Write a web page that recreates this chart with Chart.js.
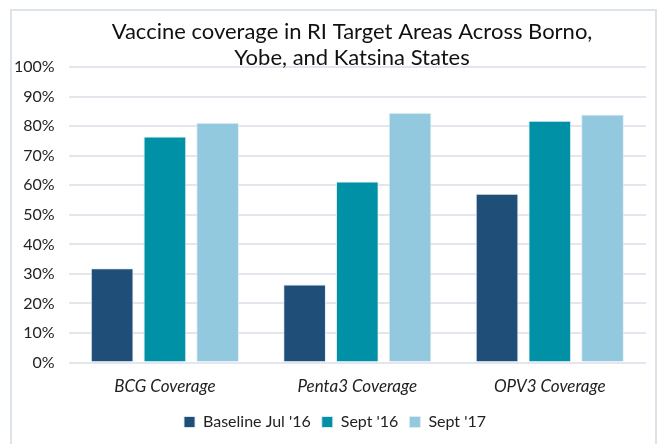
<!DOCTYPE html>
<html>
<head>
<meta charset="utf-8">
<script src="https://cdn.jsdelivr.net/npm/chart.js@4"></script>
<style>
  html, body { margin: 0; padding: 0; background: #ffffff; }
  #wrap { width: 657px; height: 444px; position: relative; }
</style>
</head>
<body>
<div id="wrap"><canvas id="c" width="657" height="444"></canvas></div>
<script>
const categories = ["BCG Coverage", "Penta3 Coverage", "OPV3 Coverage"];
const seriesNames = ["Baseline Jul '16", "Sept '16", "Sept '17"];
const baselineJul16 = [31.9, 26.4, 57.1];
const sept16 = [76.5, 61.3, 81.8];
const sept17 = [81.1, 84.5, 83.9];
const yTicks = [0, 10, 20, 30, 40, 50, 60, 70, 80, 90, 100];
const titleLines = ["Vaccine coverage in RI Target Areas Across Borno,", "Yobe, and Katsina States"];

const colors = ["#1f4e79", "#0091a6", "#92c9de"];
const FONT = "Lato, 'Open Sans', sans-serif";

const framePlugin = {
  id: 'frame',
  afterLayout(chart) {
    if (chart.legend) {
      chart.legend.left += 12;
      chart.legend.right += 12;
    }
  },
  beforeDraw(chart) {
    const ctx = chart.ctx;
    ctx.save();
    ctx.fillStyle = '#ffffff';
    ctx.fillRect(0, 0, chart.width, chart.height);
    ctx.strokeStyle = '#dde3eb';
    ctx.lineWidth = 2;
    ctx.beginPath();
    ctx.moveTo(11, 446);
    ctx.lineTo(11, 10);
    ctx.lineTo(656, 10);
    ctx.lineTo(656, 446);
    ctx.stroke();
    ctx.restore();
  },
  afterDraw(chart) {
    const ctx = chart.ctx;
    ctx.save();
    ctx.fillStyle = '#111111';
    ctx.font = "22px " + FONT;
    ctx.textAlign = 'center';
    ctx.textBaseline = 'middle';
    ctx.fillText(titleLines[0], 352, 32);
    ctx.fillText(titleLines[1], 352, 58);
    ctx.restore();
  }
};

new Chart(document.getElementById('c'), {
  type: 'bar',
  data: {
    labels: categories,
    datasets: [
      { label: seriesNames[0], data: baselineJul16, backgroundColor: colors[0] },
      { label: seriesNames[1], data: sept16, backgroundColor: colors[1] },
      { label: seriesNames[2], data: sept17, backgroundColor: colors[2] }
    ].map(d => Object.assign(d, { borderColor: 'rgba(225,235,242,0.9)', borderWidth: 1, categoryPercentage: 0.822, barPercentage: 0.81 }))
  },
  options: {
    responsive: false,
    animation: false,
    devicePixelRatio: 1,
    layout: { padding: { top: 67, left: 0, right: 11, bottom: 4 } },
    plugins: {
      title: { display: false },
      tooltip: { enabled: false },
      legend: {
        position: 'bottom',
        labels: {
          boxWidth: 11, boxHeight: 11, padding: 11,
          color: '#222222',
          font: { family: FONT, size: 16 }
        }
      }
    },
    scales: {
      x: {
        grid: { display: false },
        border: { display: false },
        ticks: { color: '#222222', padding: 6, font: { family: FONT, size: 17, style: 'italic' } }
      },
      y: {
        min: 0, max: 100,
        afterBuildTicks(axis) { axis.ticks = yTicks.map(v => ({ value: v })); },
        grid: { color: '#e3e7ed', lineWidth: 2, drawTicks: false },
        border: { display: false },
        ticks: { color: '#222222', padding: 14, font: { family: FONT, size: 16 }, callback: v => v + '%' }
      }
    }
  },
  plugins: [framePlugin]
});
</script>
</body>
</html>
